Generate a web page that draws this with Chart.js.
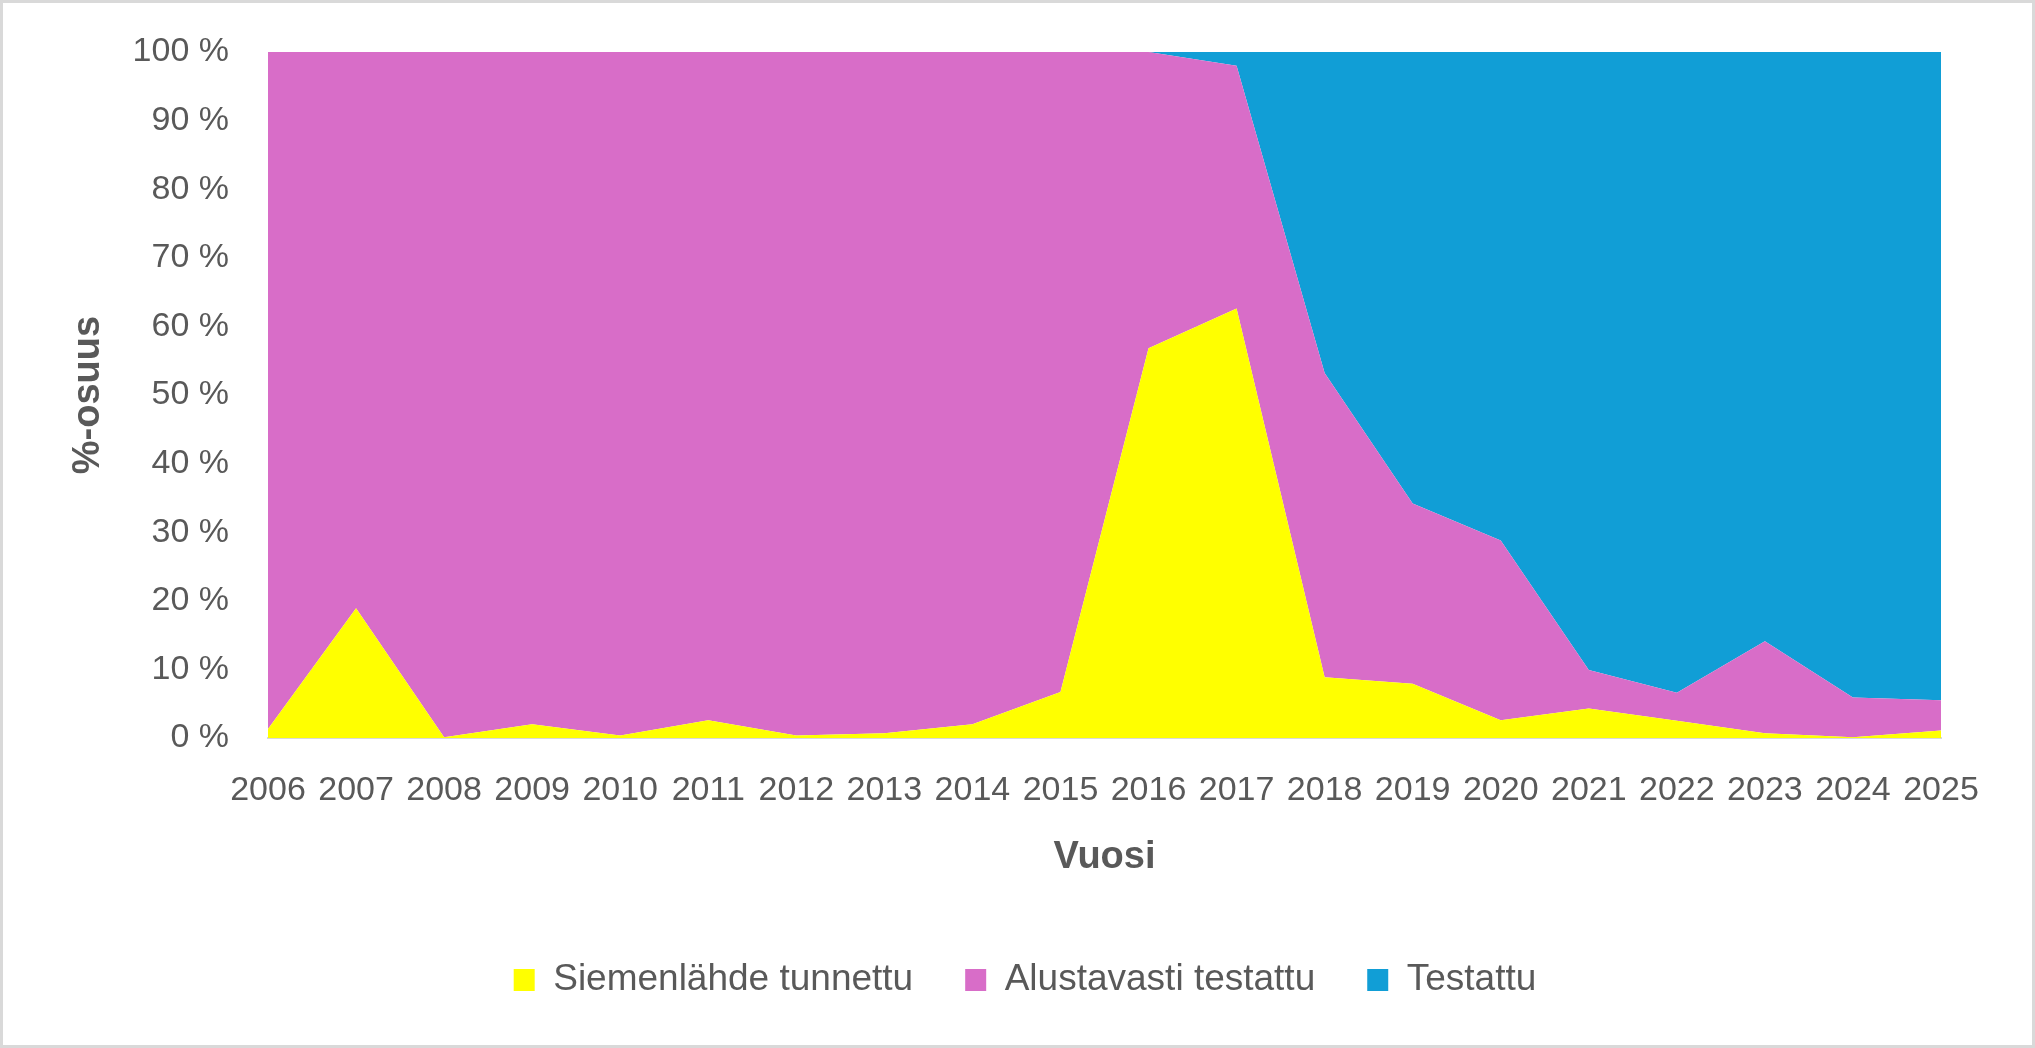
<!DOCTYPE html>
<html>
<head>
<meta charset="utf-8">
<script src="https://cdn.jsdelivr.net/npm/chart.js@4.4.1/dist/chart.umd.min.js"></script>
<style>
  html, body { margin: 0; padding: 0; background: #ffffff; }
  #wrap { position: relative; width: 2035px; height: 1048px; }
  #frame { position: absolute; left: 0; top: 0; width: 2035px; height: 1048px; box-sizing: border-box; border: 3px solid #d9d9d9; pointer-events: none; }
  canvas { display: block; }
</style>
</head>
<body>
<div id="wrap">
  <canvas id="c" width="2035" height="1048"></canvas>
  <div id="frame"></div>
</div>
<script>
// Categories (years)
const years = ['2006','2007','2008','2009','2010','2011','2012','2013','2014','2015',
               '2016','2017','2018','2019','2020','2021','2022','2023','2024','2025'];

// Share of each class, % (stacked to 100 %)
const siemenlahdeTunnettu = [1.3, 18.9, 0.1, 2.0, 0.35, 2.6, 0.35, 0.7, 2.0, 6.7,
                             56.8, 62.6, 8.85, 7.9, 2.6, 4.3, 2.5, 0.7, 0.1, 1.1];
const alustavastiTestattu = [98.7, 81.1, 99.9, 98.0, 99.65, 97.4, 99.65, 99.3, 98.0, 93.3,
                             43.2, 35.4, 44.35, 26.3, 26.2, 5.6, 4.1, 13.4, 5.8, 4.4];
const testattu            = [0, 0, 0, 0, 0, 0, 0, 0, 0, 0,
                             0, 2.0, 46.8, 65.8, 71.2, 90.1, 93.4, 85.9, 94.1, 94.5];

const seriesNames = ['Siemenlähde tunnettu', 'Alustavasti testattu', 'Testattu'];

// Y axis tick labels
const yTickValues = [0, 10, 20, 30, 40, 50, 60, 70, 80, 90, 100];
const yTickLabels = ['0 %', '10 %', '20 %', '30 %', '40 %', '50 %', '60 %', '70 %', '80 %', '90 %', '100 %'];

const axisTitleX = 'Vuosi';
const axisTitleY = '%-osuus';

const TEXT = '#595959';
const FONT = "'Liberation Sans', Arial, sans-serif";

const mkSet = (label, data, color, fill) => ({
  label, data, fill,
  backgroundColor: color, borderColor: color, borderWidth: 0,
  pointRadius: 0, pointHoverRadius: 0, tension: 0
});

new Chart(document.getElementById('c'), {
  type: 'line',
  data: {
    labels: years,
    datasets: [
      mkSet(seriesNames[0], siemenlahdeTunnettu, '#FFFF00', 'origin'),
      mkSet(seriesNames[1], alustavastiTestattu, '#D86DC8', '-1'),
      mkSet(seriesNames[2], testattu, '#119ED6', '-1')
    ]
  },
  options: {
    responsive: false,
    animation: false,
    devicePixelRatio: 1,
    layout: { padding: { left: 109, right: 94, top: 52, bottom: 39.5 } },
    plugins: {
      legend: {
        position: 'bottom',
        labels: { color: TEXT, font: { family: FONT, size: 37 }, boxWidth: 21, boxHeight: 22, padding: 52 }
      },
      tooltip: { enabled: false }
    },
    scales: {
      x: {
        type: 'category', offset: false,
        grid: { display: false, drawTicks: false },
        border: { display: true, color: '#d9d9d9', width: 2 },
        ticks: { color: TEXT, font: { family: FONT, size: 34 }, padding: 32, maxRotation: 0, autoSkip: false },
        title: { display: true, text: axisTitleX, color: TEXT, font: { family: FONT, size: 38, weight: 'bold' }, padding: { top: 10, bottom: 29.2 } },
        afterFit: (s) => { s.height = 171.5; }
      },
      y: {
        stacked: true, min: 0, max: 100,
        afterBuildTicks: (s) => { s.ticks = yTickValues.map(v => ({ value: v })); },
        grid: { color: '#d9d9d9', lineWidth: 1, drawTicks: true, tickLength: 39, tickColor: 'rgba(0,0,0,0)' },
        border: { display: false },
        ticks: { color: TEXT, font: { family: FONT, size: 34 }, padding: 0, callback: (v) => yTickLabels[yTickValues.indexOf(v)] },
        title: { display: true, text: axisTitleY, color: TEXT, font: { family: FONT, size: 38, weight: 'bold' }, padding: { top: -42.8, bottom: 0 } },
        afterFit: (s) => { s.width = 159; }
      }
    }
  }
});
</script>
</body>
</html>
